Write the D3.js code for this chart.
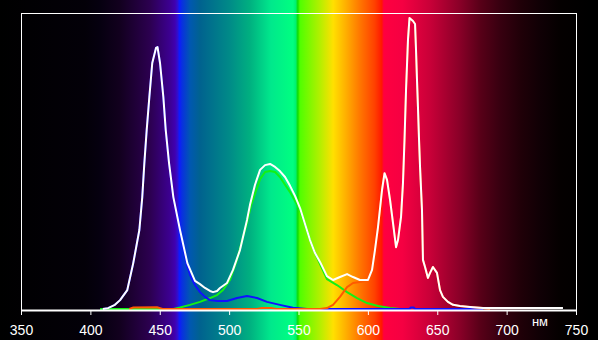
<!DOCTYPE html>
<html>
<head>
<meta charset="utf-8">
<script src="https://cdn.jsdelivr.net/npm/d3@7"></script>
<style>
  html, body { margin: 0; padding: 0; background: #000; }
  svg { display: block; }
  text { font-family: "Liberation Sans", Arial, sans-serif; }
</style>
</head>
<body>
<div id="chart"></div>
<script>
// wavelength ticks (nm)
const tickValues = [350, 400, 450, 500, 550, 600, 650, 700, 750];
const unitLabel = "нм";

// measured spectrum, [nm, relative intensity 0..100]
const whiteSeries = [
  [409, 0], [412.7, 0.3], [417.7, 1.4], [421.4, 3.0], [426.6, 6.4], [430.9, 15.5],
  [435.3, 26.7], [437.4, 37.8], [438.9, 49.3], [440.6, 60.5], [442.5, 71.6],
  [444.6, 83.1], [447.3, 88.2], [448.4, 88.5], [450.2, 83.1], [452.6, 71.6],
  [454.3, 60.5], [456.7, 49.3], [459.8, 37.8], [464.6, 26.7], [469.9, 15.5],
  [475.4, 9.5], [479, 8.4], [482.6, 7.1], [486.2, 6.1], [488.4, 5.7], [491.3, 6.1],
  [493.4, 7.1], [498.5, 8.8], [502.8, 13.2], [507.8, 19.9], [512.9, 30.1],
  [515, 35.1], [518.6, 41.9], [522.3, 47.0], [525.9, 48.6], [529.5, 49.0],
  [533.1, 48.0], [536.6, 46.6], [540.3, 44.6], [543.9, 41.6], [547.5, 38.2],
  [551.1, 34.1], [554.7, 28.7], [558.3, 23.3], [561.9, 18.9], [565.5, 15.9],
  [570.5, 11.1], [574.9, 9.8], [579.9, 10.8], [585.0, 11.8], [589.3, 10.8],
  [594.3, 9.8], [600.1, 9.8], [603.0, 13.2], [605.1, 19.9], [607.3, 27.7],
  [610.2, 40.2], [612, 45.9], [613.8, 43.6], [616.0, 36.8], [618.1, 29.1],
  [620.3, 20.9], [621.7, 23.3], [623.9, 31.1], [625.3, 42.6], [626.4, 57.1],
  [627.5, 74], [628.9, 90.9], [630, 98.3], [632.5, 97.3], [634.0, 96.3],
  [634.7, 87.5], [635.4, 77.4], [636.1, 68.2], [636.8, 58.1], [637.6, 48.0],
  [639.0, 33.4], [639.7, 16.6], [641.2, 14.2], [643.3, 10.5], [644.8, 12.2],
  [646.9, 14.2], [649.8, 12.2], [652.0, 6.4], [654.1, 4.1], [657.7, 2.4],
  [661.4, 1.4], [666.4, 1.0], [673.6, 0.7], [683, 0.34], [740.6, 0.34]
];

const blueSeries = [
  [409, 0], [412.7, 0.3], [417.7, 1.4], [421.4, 3.0], [426.6, 6.4], [430.9, 15.5],
  [435.3, 26.7], [437.4, 37.8], [438.9, 49.3], [440.6, 60.5], [442.5, 71.6],
  [444.6, 83.1], [447.3, 88.2], [448.4, 88.5], [450.2, 83.1], [452.6, 71.6],
  [454.3, 60.5], [456.7, 49.3], [459.8, 37.8], [464.6, 26.7], [467, 20.5],
  [469.6, 14.9], [471.8, 11.5], [475.4, 8.1], [479, 5.7], [482.6, 4.1],
  [486.2, 3.0], [491.3, 2.7], [498.5, 2.7], [505.7, 3.7], [512.9, 4.4],
  [520.1, 3.7], [527.3, 2.4], [536.6, 1.4], [546, 0.4], [556.1, 0],
  [630, 0], [631, 0.5], [633, 0.5], [634, 0], [683, 0]
];

const greenSeries = [
  [407, 0], [460, 0], [464.6, 0.5], [471.8, 1.4], [479, 2.4], [486.2, 3.7],
  [491.3, 4.7], [495.6, 6.4], [500.6, 9.8], [505.7, 16.6], [510.0, 24.3],
  [512.9, 29.1], [515.8, 35], [518.6, 38.9], [522.3, 43.9], [525.9, 46.3],
  [529.5, 46.6], [533.1, 46.3], [536.6, 44.6], [540.3, 42], [543.9, 39.5],
  [547.5, 36.5], [551.1, 33.4], [554.7, 28.7], [558.3, 23.3], [561.9, 18.9],
  [565.5, 15.2], [570.5, 10.1], [577.7, 8.1], [585.0, 5.7], [592.2, 3.7],
  [599.4, 2.0], [607.3, 1.0], [616, 0.34], [623.2, 0]
];

const redSeries = [
  [428, 0], [431, 0.5], [448, 0.6], [452, 0], [520, 0], [523, 0.3], [531, 0.3],
  [534, 0], [565.5, 0], [570.5, 0.3], [574.9, 1.4], [579.9, 4.1], [585.0, 7.4],
  [589.3, 8.8], [594.3, 9.1], [599.4, 9.5], [603.0, 13.2], [605.1, 19.9],
  [607.3, 27.7], [610.2, 40.2], [612, 45.9], [613.8, 43.6], [616.0, 36.8],
  [618.1, 29.1], [620.3, 20.9], [621.7, 23.3], [623.9, 31.1], [625.3, 42.6],
  [626.4, 57.1], [627.5, 74], [628.9, 90.9], [630, 98.3], [632.5, 97.3],
  [634.0, 96.3], [634.7, 87.5], [635.4, 77.4], [636.1, 68.2], [636.8, 58.1],
  [637.6, 48.0], [639.0, 33.4], [639.7, 16.6], [641.2, 14.2], [643.3, 10.5],
  [644.8, 12.2], [646.9, 14.2], [649.8, 12.2], [652.0, 6.4], [654.1, 4.1],
  [657.7, 2.4], [661.4, 1.4], [666.4, 1.0], [673.6, 0.7], [683, 0.34], [688, 0]
];

// background rainbow, [nm, colour]
const spectrumStops = [
  [334, "#000000"], [396, "#030008"], [407, "#060010"], [421, "#12001e"],
  [443, "#2c0050"], [457, "#3c0090"], [461, "#4000b0"], [463, "#3010d0"],
  [464, "#1018ff"], [466, "#0830e0"], [472, "#0058b0"], [479, "#00628f"],
  [500, "#008a88"], [515, "#00b080"], [530, "#00e88c"], [546, "#00ff80"],
  [548, "#00f070"], [549.5, "#10dd00"], [551, "#50ff00"], [565, "#b0f000"],
  [575, "#ffe000"], [584, "#ffb000"], [594, "#ff7800"], [605, "#ff4000"],
  [610, "#ff1800"], [611.5, "#ff0040"], [625, "#f50042"], [645, "#c80038"],
  [666, "#8a0028"], [681, "#580018"], [695, "#380010"], [710, "#200008"],
  [724, "#100005"], [739, "#040000"], [760, "#000000"]
];

const width = 598, height = 340;
const plot = { left: 21, right: 576, top: 13, bottom: 310 };

const svg = d3.select("#chart").append("svg")
  .attr("width", width)
  .attr("height", height);

const x = d3.scaleLinear().domain([350, 750]).range([plot.left, plot.right]);
const y = d3.scaleLinear().domain([0, 100]).range([plot.bottom - 1, plot.top]);

// background gradient across the whole picture
const grad = svg.append("defs").append("linearGradient")
  .attr("id", "spectrum")
  .attr("gradientUnits", "userSpaceOnUse")
  .attr("x1", 0).attr("x2", width).attr("y1", 0).attr("y2", 0);

grad.selectAll("stop")
  .data(spectrumStops)
  .enter().append("stop")
  .attr("offset", d => Math.max(0, Math.min(1, x(d[0]) / width)))
  .attr("stop-color", d => d[1]);

svg.append("rect")
  .attr("width", width).attr("height", height)
  .attr("fill", "url(#spectrum)");

// frame
svg.append("rect")
  .attr("x", plot.left + 0.5).attr("y", plot.top + 0.5)
  .attr("width", plot.right - plot.left).attr("height", plot.bottom - plot.top)
  .attr("fill", "none").attr("stroke", "#fff").attr("stroke-width", 1);

const line = d3.line().x(d => x(d[0])).y(d => y(d[1]));

const series = [
  { data: greenSeries, color: "#14f014" },
  { data: blueSeries, color: "#1010ff" },
  { data: redSeries, color: "#ff5a00" },
  { data: whiteSeries, color: "#ffffff" }
];

svg.selectAll("path.curve")
  .data(series)
  .enter().append("path")
  .attr("class", "curve")
  .attr("d", d => line(d.data))
  .attr("fill", "none")
  .attr("stroke", d => d.color)
  .attr("stroke-width", 2)
  .attr("stroke-linejoin", "round");

// x axis
const axis = d3.axisBottom(x)
  .tickValues(tickValues)
  .tickSize(5)
  .tickPadding(10);

const gx = svg.append("g")
  .attr("transform", `translate(0,${plot.bottom})`)
  .call(axis);

gx.select(".domain").remove();
gx.selectAll(".tick line").attr("stroke", "#fff");
gx.selectAll(".tick text")
  .attr("fill", "#fff")
  .style("font-size", "14px")
  .style("font-family", "'Liberation Sans', Arial, sans-serif");

svg.append("line")
  .attr("x1", plot.left).attr("x2", plot.right + 1)
  .attr("y1", plot.bottom + 0.5).attr("y2", plot.bottom + 0.5)
  .attr("stroke", "#fff").attr("stroke-width", 2);

svg.append("text")
  .attr("x", 540).attr("y", 326)
  .attr("text-anchor", "middle")
  .attr("fill", "#fff")
  .style("font-size", "13px")
  .text(unitLabel);
</script>
</body>
</html>
